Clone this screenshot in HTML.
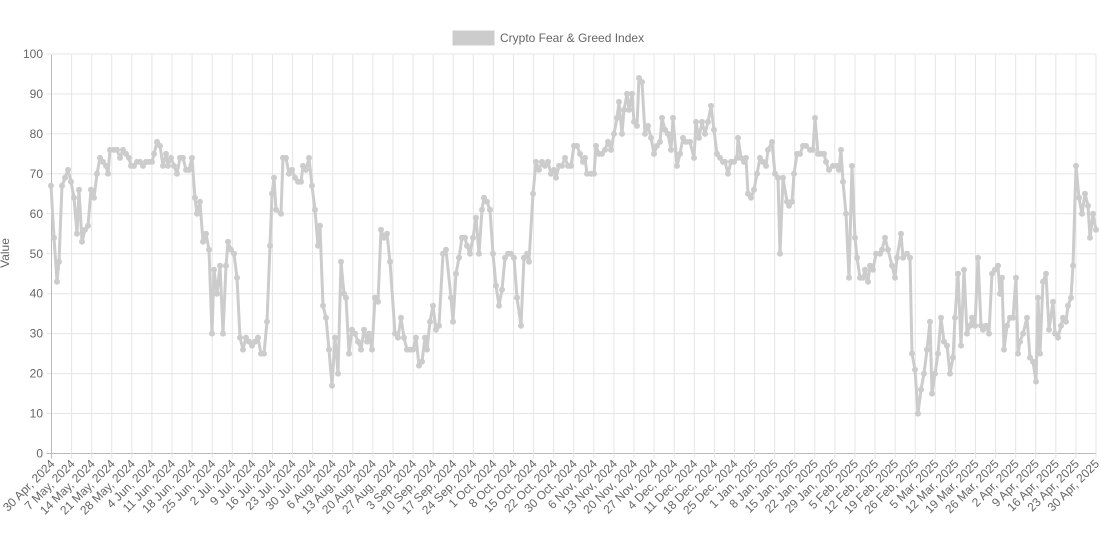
<!DOCTYPE html>
<html><head><meta charset="utf-8"><style>
html,body{margin:0;padding:0;background:#fff;}
svg{display:block;font-family:"Liberation Sans",Arial,sans-serif;}
</style></head><body>
<svg id="c" width="1101" height="540" xmlns="http://www.w3.org/2000/svg">
<rect x="453" y="31" width="41" height="14" fill="#cccccc" stroke="#cccccc"/>
<text x="500" y="42" font-size="12" fill="#666">Crypto Fear &amp; Greed Index</text>
<text transform="translate(9,253) rotate(-90)" font-size="12" fill="#666" text-anchor="middle">Value</text>
<g id="grid"></g><g id="data"></g>
</svg>
<script>
var ns="http://www.w3.org/2000/svg",svg=document.getElementById('c'),g=document.getElementById('grid'),d=document.getElementById('data');
function el(t,a,p,txt){var e=document.createElementNS(ns,t);for(var k in a)e.setAttribute(k,a[k]);if(txt)e.textContent=txt;(p||g).appendChild(e);return e;}
var X0=51.5,X1=1096,Y0=453.5,YS=3.995;
for(var v=0;v<=100;v+=10){var y=Y0-v*YS;el('line',{x1:X0-5,x2:X1,y1:y,y2:y,stroke:v==0?'#bbb':'#e5e5e5','stroke-width':1});
el('text',{x:43,y:y+4,'font-size':12,fill:'#666','text-anchor':'end'},g,''+v);}
var labels=["30 Apr, 2024","7 May, 2024","14 May, 2024","21 May, 2024","28 May, 2024","4 Jun, 2024","11 Jun, 2024","18 Jun, 2024","25 Jun, 2024","2 Jul, 2024","9 Jul, 2024","16 Jul, 2024","23 Jul, 2024","30 Jul, 2024","6 Aug, 2024","13 Aug, 2024","20 Aug, 2024","27 Aug, 2024","3 Sep, 2024","10 Sep, 2024","17 Sep, 2024","24 Sep, 2024","1 Oct, 2024","8 Oct, 2024","15 Oct, 2024","22 Oct, 2024","30 Oct, 2024","6 Nov, 2024","13 Nov, 2024","20 Nov, 2024","27 Nov, 2024","4 Dec, 2024","11 Dec, 2024","18 Dec, 2024","25 Dec, 2024","1 Jan, 2025","8 Jan, 2025","15 Jan, 2025","22 Jan, 2025","29 Jan, 2025","5 Feb, 2025","12 Feb, 2025","19 Feb, 2025","26 Feb, 2025","5 Mar, 2025","12 Mar, 2025","19 Mar, 2025","26 Mar, 2025","2 Apr, 2025","9 Apr, 2025","16 Apr, 2025","23 Apr, 2025","30 Apr, 2025"];
var n=labels.length;
for(var i=0;i<n;i++){var x=X0+(X1-X0)*i/(n-1);
el('line',{x1:x,x2:x,y1:55,y2:Y0+5,stroke:i==0?'#bbb':'#e5e5e5'});
el('text',{transform:'translate('+(x+4)+','+(Y0+11)+') rotate(-45)','font-size':12,fill:'#666','text-anchor':'end'},g,labels[i]);}
el('line',{x1:X0,x2:X0,y1:55,y2:Y0+5,stroke:'#bbb'});
var P=[[51,67],[54,54],[57,43],[59,48],[62,67],[65,69],[68,71],[71,68],[74,64],[77,55],[79,66],[82,53],[85,56],[88,57],[91,66],[94,64],[97,70],[100,74],[103,73],[106,72],[108,70],[110,76],[114,76],[117,76],[120,74],[123,76],[126,75],[129,74],[131,72],[134,72],[137,73],[140,73],[143,72],[146,73],[149,73],[152,73],[154,75],[157,78],[160,77],[163,72],[166,75],[168,72],[171,74],[174,72],[177,70],[180,74],[183,74],[186,71],[189,71],[192,74],[195,64],[197,60],[200,63],[203,53],[206,55],[209,51],[212,30],[214,46],[217,40],[220,47],[223,30],[226,47],[228,53],[231,51],[234,50],[237,44],[240,29],[243,26],[246,29],[249,28],[252,27],[255,28],[258,29],[261,25],[264,25],[267,33],[270,52],[272,65],[274,69],[276,61],[281,60],[283,74],[286,74],[289,70],[292,71],[295,69],[298,68],[301,68],[303,72],[306,71],[309,74],[312,67],[315,61],[318,52],[320,57],[323,37],[326,34],[329,26],[332,17],[335,29],[338,20],[341,48],[344,40],[346,39],[349,25],[352,31],[355,30],[358,28],[361,26],[364,31],[367,28],[369,30],[372,26],[375,39],[378,38],[381,56],[384,54],[387,55],[390,48],[395,30],[398,29],[401,34],[404,29],[407,26],[410,26],[413,26],[416,29],[419,22],[422,23],[425,29],[427,26],[430,33],[433,37],[436,31],[439,32],[443,50],[446,51],[451,39],[453,33],[456,45],[459,49],[462,54],[465,54],[467,52],[470,50],[473,54],[476,59],[479,50],[482,61],[484,64],[487,63],[490,61],[493,50],[496,42],[499,37],[502,41],[505,49],[508,50],[511,50],[514,49],[517,39],[521,32],[524,49],[527,50],[529,48],[533,65],[536,73],[539,71],[542,73],[545,72],[548,73],[551,70],[554,71],[556,69],[559,72],[562,72],[565,74],[568,72],[571,72],[574,77],[577,77],[580,75],[583,73],[585,74],[587,70],[591,70],[594,70],[596,77],[599,75],[602,75],[605,76],[608,78],[611,76],[614,80],[617,84],[619,88],[622,80],[624,86],[627,90],[629,86],[632,90],[634,83],[637,82],[639,94],[642,93],[645,80],[648,82],[651,79],[654,75],[657,77],[660,78],[662,84],[665,81],[668,80],[671,76],[673,84],[677,72],[680,75],[683,79],[686,78],[690,78],[694,74],[696,83],[699,79],[702,83],[705,80],[708,83],[711,87],[714,81],[717,75],[720,74],[723,73],[725,73],[728,70],[731,73],[734,73],[737,74],[738,79],[741,74],[744,73],[746,74],[748,65],[751,64],[754,66],[757,70],[760,74],[763,73],[766,72],[768,76],[772,78],[775,70],[778,69],[780,50],[783,69],[787,63],[789,62],[792,63],[794,70],[797,75],[800,75],[803,77],[806,77],[810,76],[813,76],[815,84],[818,75],[821,75],[824,75],[826,73],[829,71],[833,72],[837,72],[839,71],[841,76],[843,68],[846,60],[849,44],[852,72],[855,54],[857,49],[860,44],[863,44],[865,46],[868,43],[870,47],[873,46],[876,50],[880,50],[882,51],[885,54],[888,51],[892,47],[895,44],[897,49],[901,55],[903,49],[907,50],[910,49],[912,25],[915,21],[918,10],[921,16],[924,20],[927,26],[930,33],[932,15],[935,20],[938,25],[941,34],[944,28],[947,27],[950,20],[953,24],[955,34],[958,45],[961,27],[964,46],[967,30],[970,32],[972,34],[975,32],[978,49],[981,32],[983,31],[986,32],[989,30],[992,45],[995,46],[998,47],[1000,40],[1002,44],[1004,26],[1007,32],[1010,34],[1013,34],[1016,44],[1018,25],[1020,28],[1023,30],[1027,34],[1030,24],[1033,23],[1036,18],[1038,39],[1040,25],[1043,43],[1046,45],[1049,31],[1053,38],[1055,30],[1058,29],[1061,32],[1063,34],[1066,33],[1068,37],[1071,39],[1073,47],[1076,72],[1079,64],[1082,60],[1085,65],[1088,62],[1090,54],[1093,60],[1096,56]];
var pts=P.map(function(p){return p[0]+','+(Y0-p[1]*YS).toFixed(1);}).join(' ');
el('polyline',{points:pts,fill:'none',stroke:'#cccccc','stroke-width':3,'stroke-linejoin':'round'},d);
P.forEach(function(p){el('circle',{cx:p[0],cy:(Y0-p[1]*YS).toFixed(1),r:3,fill:'#cccccc'},d);});
</script>
</body></html>
